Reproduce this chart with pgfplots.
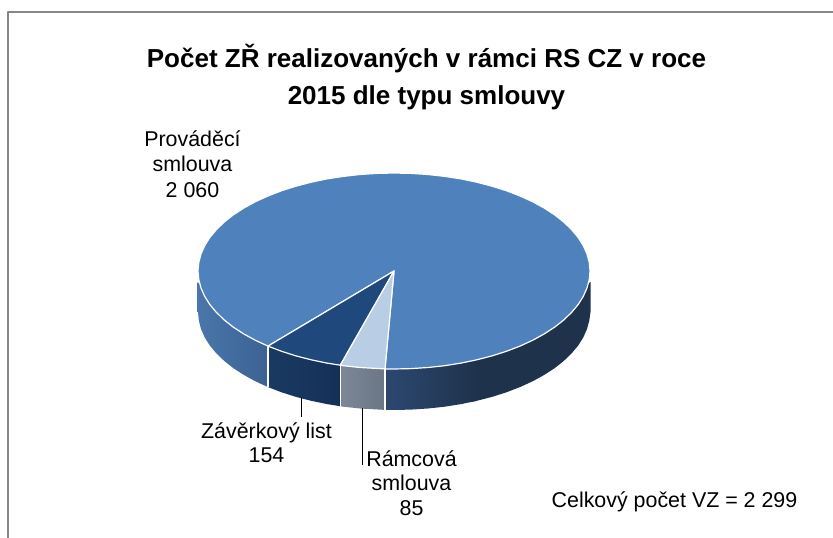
\documentclass[border=0pt]{standalone}
\usepackage{fontspec}
\setmainfont{Liberation Sans}
\usepackage{pgfplots}
\pgfplotsset{compat=1.18}
\definecolor{mainblue}{RGB}{79,129,189}
\definecolor{navy}{RGB}{31,73,125}
\definecolor{lightb}{RGB}{185,205,229}
\definecolor{frameg}{RGB}{134,134,134}
\begin{document}
\begin{tikzpicture}[x=1pt,y=1pt]
\begin{axis}[
  scale only axis, width=833pt, height=538pt,
  xmin=0, xmax=833, ymin=0, ymax=538, y dir=reverse,
  hide axis, clip=true,
  every axis plot/.append style={no markers, line join=round},
]
% frame
\addplot[frameg, line width=2pt] coordinates {(8,538) (8,11.5) (833,11.5)};
% sides
\addplot[draw=none, left color={rgb,255:red,73;green,118;blue,172}, right color={rgb,255:red,60;green,98;blue,146}] coordinates {
(197.5,282)(197.5,312)(198,312)(198.8,320.5)(201,329)(204.7,337.4)(209.8,345.5)(216.4,353.4)(224.3,361)(233.4,368.2)(243.9,375)(255.4,381.3)(268,387.1)(268,346.1)} -- cycle;
\addplot[draw=none, left color={rgb,255:red,26;green,58;blue,98}, right color={rgb,255:red,20;green,48;blue,88}] coordinates {
(268,346.1)(268,387.1)(281.6,392.3)(296,396.9)(311.2,400.8)(327,404.1)(340.3,406.2)(340.3,365.2)} -- cycle;
\addplot[draw=none, left color={rgb,255:red,124;green,136;blue,152}, right color={rgb,255:red,106;green,118;blue,132}] coordinates {
(340.3,365.2)(340.3,406.2)(343.3,406.7)(360,408.5)(385,409.9)(385,368.9)} -- cycle;
\addplot[draw=none, fill={rgb,255:red,31;green,50;blue,76}] coordinates {
(470,360)(470,402.2)(476.8,400.8)(492,396.9)(506.4,392.3)(520,387.1)(532.6,381.3)(544.1,375)(554.6,368.2)(563.7,361)(571.6,353.4)(578.2,345.5)(583.3,337.4)(587,329)(589.3,320.5)(590.5,312)(590.5,282)} -- cycle;
\addplot[draw=none, left color={rgb,255:red,44;green,72;blue,112}, right color={rgb,255:red,31;green,50;blue,76}] coordinates {
(385,368.9)(385,409.9)(394,410)(411.1,409.6)(428,408.5)(444.7,406.7)(461,404.1)(476.8,400.8)(476.8,359.8)} -- cycle;
% white separators on the side
\addplot[white, line width=1.2pt] coordinates {(268,346)(268,387.1)};
\addplot[white, line width=1.2pt] coordinates {(340.3,365)(340.3,406.2)};
\addplot[white, line width=1.2pt] coordinates {(385,369)(385,409.9)};
% top face
\addplot[draw=white, line width=1.2pt, fill=mainblue] coordinates {
(394,271)(268,346.1)(255.4,340.3)(243.9,334)(233.4,327.2)(224.3,320)(216.4,312.4)(209.8,304.5)(204.7,296.4)(201,288)(198.8,279.5)(198,271)
(198.8,262.5)(201,254)(204.7,245.7)(209.8,237.5)(216.4,229.6)(224.3,222)(233.4,214.8)(243.9,208)(255.4,201.7)(268,196)(281.6,190.7)(296,186.2)(311.2,182.2)(327,178.9)(343.3,176.4)(360,174.5)(376.9,173.4)(394,173)
(411.1,173.4)(428,174.5)(444.7,176.4)(461,178.9)(476.8,182.2)(492,186.2)(506.4,190.7)(520,196)(532.6,201.7)(544.1,208)(554.6,214.8)(563.7,222)(571.6,229.6)(578.2,237.5)(583.3,245.7)(587,254)(589.3,262.5)(590,271)
(589.3,279.5)(587,288)(583.3,296.4)(578.2,304.5)(571.6,312.4)(563.7,320)(554.6,327.2)(544.1,334)(532.6,340.3)(520,346.1)(506.4,351.3)(492,355.9)(476.8,359.8)(461,363.1)(444.7,365.7)(428,367.5)(411.1,368.6)(394,369)(385,368.9)} -- cycle;
\addplot[draw=white, line width=1.2pt, fill=navy] coordinates {
(394,271)(340.3,365.2)(327,363.1)(311.2,359.8)(296,355.9)(281.6,351.3)(268,346.1)} -- cycle;
\addplot[draw=white, line width=1.2pt, fill=lightb] coordinates {
(394,271)(385,368.9)(360,367.5)(343.3,365.7)(340.3,365.2)} -- cycle;
% leaders
\addplot[black, line width=1.5pt] coordinates {(301.7,398)(301.7,417)};
\addplot[black, line width=1.5pt] coordinates {(362.4,408)(362.4,465)};
% text
\def\lab#1#2#3{\node[anchor=base, inner sep=0pt, font=\fontsize{21.4}{24}\selectfont, text=black] at (axis cs:#1,#2) {#3};}
\def\ttl#1#2#3{\node[anchor=base, inner sep=0pt, font=\fontsize{26}{28}\selectfont\bfseries, text=black] at (axis cs:#1,#2) {#3};}
\ttl{426.5}{67}{Počet ZŘ realizovaných v rámci RS CZ v roce}
\ttl{426.5}{104}{2015 dle typu smlouvy}
\lab{192.5}{146}{Prováděcí}
\lab{192.5}{171}{smlouva}
\lab{192.5}{197}{2 060}
\lab{266.5}{438}{Závěrkový list}
\lab{266.5}{462}{154}
\lab{411.5}{466}{Rámcová}
\lab{411.5}{490}{smlouva}
\lab{411.5}{515}{85}
\lab{674.5}{507}{Celkový počet VZ = 2 299}
\end{axis}
\pgfresetboundingbox
\path[use as bounding box] (0,0) rectangle (833pt,538pt);
\end{tikzpicture}
\end{document}
